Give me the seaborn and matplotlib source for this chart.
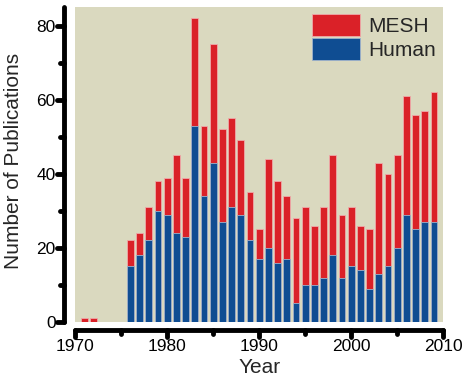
import matplotlib
matplotlib.use("Agg")
import matplotlib.pyplot as plt
import seaborn as sns
import pandas as pd
from matplotlib.patches import Patch
from matplotlib.markers import MarkerStyle, TICKDOWN, TICKLEFT

years = [1971, 1972, 1976, 1977, 1978, 1979, 1980, 1981, 1982, 1983, 1984, 1985,
         1986, 1987, 1988, 1989, 1990, 1991, 1992, 1993, 1994, 1995, 1996, 1997,
         1998, 1999, 2000, 2001, 2002, 2003, 2004, 2005, 2006, 2007, 2008, 2009]
mesh = [1, 1, 22, 24, 31, 38, 39, 45, 39, 82, 53, 75,
        52, 55, 49, 35, 25, 44, 38, 34, 28, 31, 26, 31,
        45, 29, 31, 26, 25, 43, 40, 45, 61, 56, 57, 62]
human = [0, 0, 15, 18, 22, 30, 29, 24, 23, 53, 34, 43,
         27, 31, 29, 22, 17, 20, 16, 17, 5, 10, 10, 12,
         18, 12, 15, 14, 9, 13, 15, 20, 29, 25, 27, 27]

df = pd.DataFrame({"Year": years, "MESH": mesh, "Human": human})

sns.set_style("white")
plt.rcParams['font.family'] = ['Liberation Sans', 'DejaVu Sans']

red = "#DA2128"
blue = "#0F4D92"
bg = "#DAD9BF"

fig = plt.figure(figsize=(4.67, 3.77), dpi=100)
ax = fig.add_axes([0.161, 0.146, 0.788, 0.835])
ax.set_facecolor(bg)

sns.barplot(data=df, x="Year", y="MESH", native_scale=True, width=0.75,
            color=red, saturation=1, errorbar=None, ax=ax,
            edgecolor="#EFA9A9", linewidth=0.6)
sns.barplot(data=df, x="Year", y="Human", native_scale=True, width=0.75,
            color=blue, saturation=1, errorbar=None, ax=ax,
            edgecolor="#9FB3CC", linewidth=0.6)

ax.set_xlim(1970, 2010)
ax.set_ylim(0, 85)
ax.set_xticks([1970, 1980, 1990, 2000, 2010])
ax.set_xticks([1975, 1985, 1995, 2005], minor=True)
ax.set_yticks([0, 20, 40, 60, 80])
ax.set_yticks([10, 30, 50, 70], minor=True)

for s in ["top", "right"]:
    ax.spines[s].set_visible(False)
ax.spines["left"].set_position(("outward", 8))
ax.spines["bottom"].set_position(("outward", 6))
for s in ["left", "bottom"]:
    ax.spines[s].set_linewidth(3.5)
    ax.spines[s].set_color("black")
    ax.spines[s].set_capstyle("round")

ax.tick_params(axis="both", which="both", bottom=True, left=True, top=False, right=False)
ax.tick_params(axis="both", which="major", direction="out", length=5, width=3.5,
               colors="black", labelsize=12.5, pad=1)
ax.tick_params(axis="both", which="minor", direction="out", length=3, width=3.5,
               colors="black")

for t in ax.xaxis.get_major_ticks() + ax.xaxis.get_minor_ticks():
    t.tick1line.set_marker(MarkerStyle(TICKDOWN, capstyle="round"))
for t in ax.yaxis.get_major_ticks() + ax.yaxis.get_minor_ticks():
    t.tick1line.set_marker(MarkerStyle(TICKLEFT, capstyle="round"))

ax.set_xlabel("Year", fontsize=15, labelpad=3)
ax.set_ylabel("Number of Publications", fontsize=15)
ax.yaxis.set_label_coords(-0.142, 0.51)

handles = [Patch(facecolor=red, edgecolor="#EFA9A9", linewidth=0.6, label="MESH"),
           Patch(facecolor=blue, edgecolor="#9FB3CC", linewidth=0.6, label="Human")]
ax.legend(handles=handles, loc="upper right", frameon=False, fontsize=15,
          handlelength=2.3, handleheight=1.2, labelspacing=0.1,
          handletextpad=0.4, borderaxespad=0.1, borderpad=0.25)

fig.savefig("out.png", dpi=100)
